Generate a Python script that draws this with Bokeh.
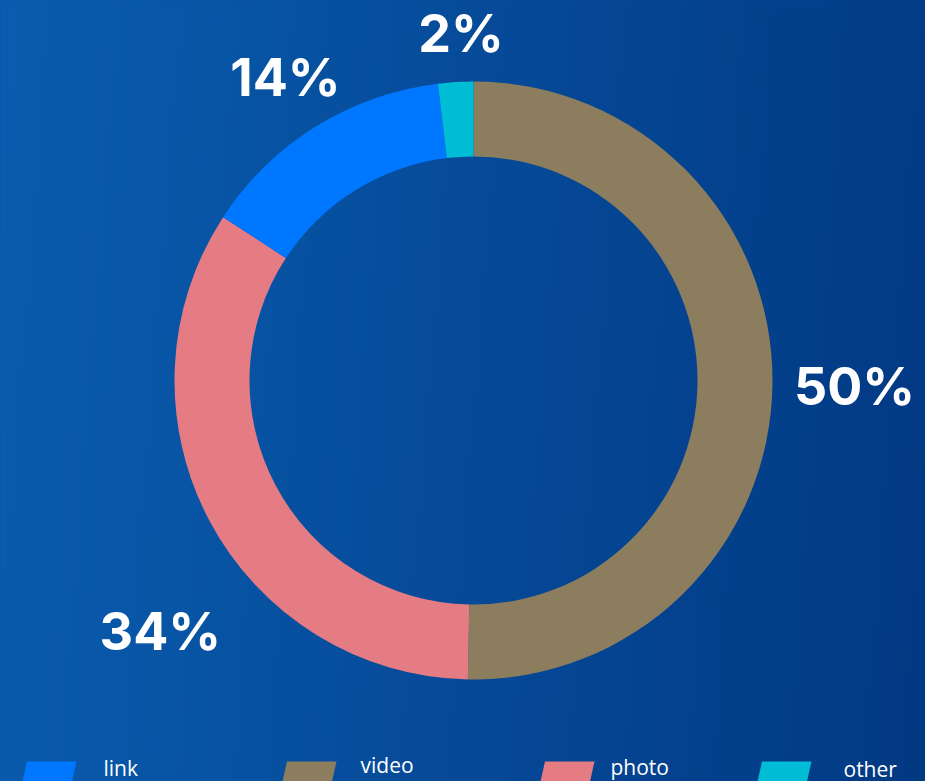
import numpy as np
from bokeh.plotting import figure
from bokeh.models import Range1d
from bokeh.core.properties import value
from bokeh.embed import file_html
from bokeh.resources import INLINE

# ---- data ----
slice_names = ["video", "photo", "link", "other"]          # clockwise from 12 o'clock
slice_values = [50.3, 33.9, 13.9, 1.9]
slice_colors = ["#8c7d5f", "#e57c84", "#0077ff", "#00bcd4"]

legend_names = ["link", "video", "photo", "other"]

# ---- layout (pixels) ----
W, H = 925, 781
CX, CY = 473, H - 380
R_IN, R_OUT = 224, 299
LABEL_R = 360
label_shift = {"video": (21, 3), "photo": (5, 83), "link": (2, 3), "other": (9, 12)}
legend_x = [22, 282, 540, 757]
legend_text_x = [103, 360, 610, 843]
legend_mid = [767, 764, 766, 768]

p = figure(width=W, height=H, output_backend="svg", toolbar_location=None,
           x_range=Range1d(0, W), y_range=Range1d(0, H),
           x_axis_type=None, y_axis_type=None, min_border=0,
           outline_line_color=None)
p.grid.visible = False
p.background_fill_color = "#0550a0"
p.border_fill_color = "#0550a0"

# background gradient
left = np.array([10, 93, 176], dtype=float)
right = np.array([2, 56, 130], dtype=float)
nx, ny = 185, 40
img = np.zeros((ny, nx), dtype=np.uint32)
view = img.view(dtype=np.uint8).reshape((ny, nx, 4))
for j in range(ny):
    for i in range(nx):
        t = i / (nx - 1)
        t = min(1.0, max(0.0, t * 0.92 + (1 - j / (ny - 1)) * 0.06))
        c = left * (1 - t) + right * t
        view[j, i, 0] = int(c[0]); view[j, i, 1] = int(c[1]); view[j, i, 2] = int(c[2]); view[j, i, 3] = 255
p.image_rgba(image=[img], x=-10, y=-10, dw=W + 20, dh=H + 20)

# donut
total = sum(slice_values)
fr = np.array(slice_values) / total
cum = np.concatenate([[0], np.cumsum(fr)])
starts = np.pi / 2 - 2 * np.pi * cum[:-1]
ends = np.pi / 2 - 2 * np.pi * cum[1:]
p.annular_wedge(x=CX, y=CY, inner_radius=R_IN, outer_radius=R_OUT,
                start_angle=list(starts), end_angle=list(ends), direction="clock",
                fill_color=slice_colors, line_color=None)

# percentage labels
lx, ly, lt = [], [], []
for name, f, c0 in zip(slice_names, fr, cum[:-1]):
    mid = 2 * np.pi * (c0 + f / 2)
    dx, dy = label_shift[name]
    lx.append(CX + LABEL_R * np.sin(mid) + dx)
    ly.append(CY + LABEL_R * np.cos(mid) - dy)
    lt.append(f"{round(f * 100):d}%")
p.text(x=lx, y=ly, text=lt, text_color="white", text_font=value("Inter"),
       text_font_style="bold", text_font_size="52px", text_align="center",
       text_baseline="middle")

# legend
color_of = dict(zip(slice_names, slice_colors))
xs, ys = [], []
for x0 in legend_x:
    xs.append([x0, x0 + 4.5, x0 + 54, x0 + 49.5, x0 - 1])
    ys.append([H - 781, H - 761, H - 761, H - 781, H - 785])
p.patches(xs=xs, ys=ys, fill_color=[color_of[n] for n in legend_names], line_color=None)
p.text(x=legend_text_x, y=[H - b for b in legend_mid], text=legend_names,
       text_color="white", text_font=value("Open Sans"), text_font_size="21px",
       text_align="left", text_baseline="middle")

html = file_html(p, INLINE)
html = html.replace(
    "<head>",
    "<head><style>html,body{margin:0;padding:0;overflow:hidden;"
    "background:linear-gradient(to right, rgb(10,93,176), rgb(2,56,130));}</style>", 1)
open("out.html", "w").write(html)
